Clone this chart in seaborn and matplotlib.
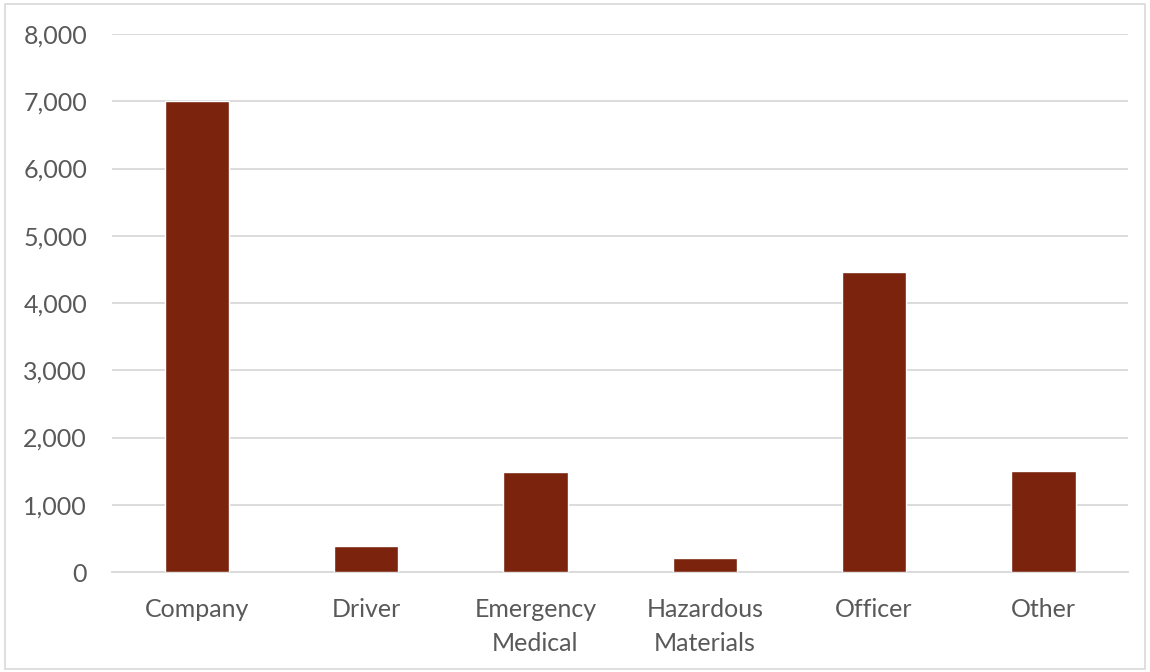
import matplotlib
matplotlib.use("Agg")
import matplotlib.pyplot as plt
import matplotlib.patches as mpatches
import seaborn as sns
import pandas as pd

# Chart data
categories = ["Company", "Driver", "Emergency\nMedical", "Hazardous\nMaterials", "Officer", "Other"]
counts = [7000, 390, 1490, 210, 4460, 1500]
y_ticks = [0, 1000, 2000, 3000, 4000, 5000, 6000, 7000, 8000]

df = pd.DataFrame({"category": categories, "count": counts})

sns.set_style("white")
plt.rcParams["font.family"] = ["Lato", "DejaVu Sans"]

fig = plt.figure(figsize=(11.5, 6.72), dpi=100)
ax = fig.add_axes([0.0974, 0.1488, 0.8836, 0.8006])

sns.barplot(data=df, x="category", y="count", color="#7B230D", width=0.38,
            saturation=1, ax=ax, zorder=3)

ax.set_ylim(0, 8000)
ax.set_yticks(y_ticks)
ax.set_yticklabels([f"{v:,}" for v in y_ticks])
ax.yaxis.grid(True, color="#D9D9D9", linewidth=1.3, zorder=0)
ax.set_axisbelow(True)

for side in ["top", "right", "left"]:
    ax.spines[side].set_visible(False)
ax.spines["bottom"].set_color("#D9D9D9")
ax.spines["bottom"].set_linewidth(1.3)

ax.tick_params(axis="both", length=0, labelsize=18, labelcolor="#595959")
ax.tick_params(axis="y", pad=18)
ax.tick_params(axis="x", pad=19)
for lbl in ax.get_xticklabels():
    lbl.set_linespacing(1.55)
ax.set_xlabel("")
ax.set_ylabel("")

# light border around the chart area
fig.patches.append(mpatches.Rectangle((0.004, 0.004), 0.992, 0.990, transform=fig.transFigure,
                                      fill=False, edgecolor="#D9D9D9", linewidth=1.2))

fig.savefig("out.png", dpi=100)
